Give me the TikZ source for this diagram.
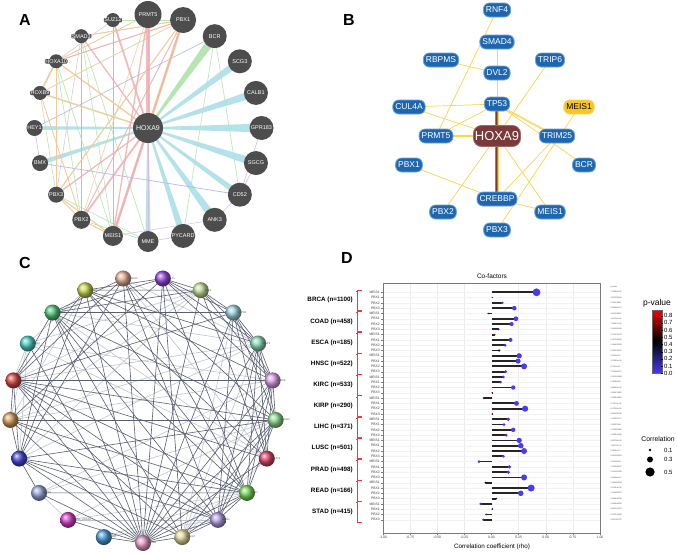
\documentclass[tikz,border=0pt]{standalone}
\usepackage{fontspec}
\setmainfont{Liberation Sans}
\usepackage{tikz}
\usetikzlibrary{calc}
\pgfdeclarelayer{bg}
\pgfsetlayers{bg,main}
% panel A
\definecolor{gnode}{HTML}{4D4D4D}
\definecolor{gcyan}{HTML}{B4E2EA}
\definecolor{ggreen}{HTML}{B6E5B1}
\definecolor{gpink}{HTML}{EFAEB0}
\definecolor{gorange}{HTML}{F6C898}
\definecolor{gtan}{HTML}{E6D4A4}
\definecolor{gpurple}{HTML}{D7C0DF}
\definecolor{gblue}{HTML}{B2BAEA}
% panel B
\definecolor{sblue}{HTML}{1E67B0}
\definecolor{sline}{HTML}{6EA3D6}
\definecolor{sedge}{HTML}{F8D64E}
\definecolor{sbrown}{HTML}{7A3A3A}
\definecolor{sbrline}{HTML}{A06A6A}
\definecolor{syellow}{HTML}{F6C623}
\definecolor{spurple}{HTML}{B163C2}
% panel C
\definecolor{cdark}{HTML}{5A5F70}
\definecolor{clight}{HTML}{C2C5CD}
\definecolor{cpink}{HTML}{E79BC4}
\definecolor{cbeige}{HTML}{E3DA9A}
\definecolor{clav}{HTML}{B3A0E6}
\definecolor{cgreen}{HTML}{7CDA58}
\definecolor{ccrimson}{HTML}{DC4466}
\definecolor{clgreen}{HTML}{8ED98E}
\definecolor{corchid}{HTML}{DDA0E6}
\definecolor{cmint}{HTML}{8ED9B9}
\definecolor{ccyan}{HTML}{9BD4E0}
\definecolor{colive}{HTML}{C2DE98}
\definecolor{cpurple}{HTML}{9448D8}
\definecolor{cpeach}{HTML}{E2B197}
\definecolor{cyg}{HTML}{C7D44E}
\definecolor{cgreentwo}{HTML}{55C97A}
\definecolor{cteal}{HTML}{4CCFC0}
\definecolor{cred}{HTML}{D94848}
\definecolor{ctan}{HTML}{D6A05A}
\definecolor{cblue}{HTML}{4646D6}
\definecolor{cperi}{HTML}{97A6DA}
\definecolor{cmag}{HTML}{D640C6}
\definecolor{csky}{HTML}{4B9CD8}
% panel D
\definecolor{pblue}{HTML}{4A3AF6}
\definecolor{pred}{HTML}{F20000}
\definecolor{dgrid}{HTML}{EBEBEB}
\definecolor{dframe}{HTML}{7A7A7A}
\definecolor{dbrack}{HTML}{F03A3A}

\begin{document}
\begin{tikzpicture}[x=1pt,y=-1pt,
  panel/.style={font=\fontsize{16}{18}\selectfont\bfseries},
  anode/.style={circle,fill=gnode,inner sep=0pt},
  alab/.style={text=white,fill=gnode,rounded corners=1pt,inner xsep=0.5pt,inner ysep=0.3pt,
    font=\fontsize{5.5}{6}\selectfont},
  snode/.style={rectangle,rounded corners=6pt,fill=sblue,draw=sline,line width=0.8pt,text=white,
    inner xsep=2.5pt,inner ysep=0pt,minimum height=14pt,font=\fontsize{8.5}{9}\selectfont},
  cnode/.style={circle,inner sep=0pt,minimum size=16pt},
  clab/.style={font=\fontsize{2.6}{3}\selectfont,text=black!70,inner sep=0pt},
  tick/.style={font=\fontsize{3.4}{4}\selectfont,text=black!75,inner sep=0.6pt},
  pval/.style={font=\fontsize{1.9}{2}\selectfont,text=black!75,inner sep=0pt,anchor=west},
  leg/.style={font=\fontsize{6}{7}\selectfont,inner sep=0.5pt}]
  \useasboundingbox (0,0) rectangle (677,554);
  \begin{pgfonlayer}{bg}
    \fill[white] (0,0) rectangle (677,554);
  \end{pgfonlayer}

  % A
  \node[panel] (labA) at (25,20) {A};
  \coordinate (actr) at (148,128);
  \node[anode,minimum size=30pt] (a-HOXA9) at (actr) {};
  \node[alab,font=\fontsize{7}{8}\selectfont] at (a-HOXA9) {HOXA9};
  \foreach \g/\d [count=\k from 0] in {PRMT5/27,PBX1/26,BCR/24,SCG3/24,CALB1/24,GPR183/24,SGCG/24,
      CD52/24,ANK3/24,PYCARD/24,MME/21,MEIS1/20,PBX2/18,PBX3/16,BMX/16,HEY1/16,HOXB9/14,HOXA10/14,SMAD3/14,SUZ12/14} {
    \node[anode,minimum size=\d pt] (a-\g) at ($(actr)+(-90+18*\k:113.5)$) {};
    \node[alab] at (a-\g) {\g};
  }
  \begin{pgfonlayer}{bg}
    % tapered bands
    \foreach \v/\w/\col in {SCG3/3.6/gcyan,CALB1/4/gcyan,GPR183/4.4/gcyan,SGCG/4/gcyan,CD52/3/gcyan,
        ANK3/4/gcyan,PYCARD/3.4/gcyan,MME/2.6/gcyan,HEY1/2/gcyan,BMX/2.3/gcyan,BCR/4.2/ggreen}
      \fill[\col] ($(a-HOXA9.center)!0.7pt!90:(a-\v.center)$) -- ($(a-\v.center)!\w pt!-90:(a-HOXA9.center)$)
        -- ($(a-\v.center)!\w pt!90:(a-HOXA9.center)$) -- ($(a-HOXA9.center)!0.7pt!-90:(a-\v.center)$) -- cycle;
    \foreach \u/\v/\w in {SMAD3/PBX1/0.6,SUZ12/PBX1/0.6,SMAD3/MEIS1/0.6,SMAD3/MME/0.6,
        BCR/CD52/0.6,HOXB9/PBX3/0.6,PBX3/MME/0.6,PBX2/MME/0.6,HOXA10/MEIS1/0.6,BCR/PYCARD/0.6,HOXA10/PBX2/0.6}
      \draw[ggreen,line width=\w pt] (a-\u.center) -- (a-\v.center);
    \foreach \u/\v/\w in {HEY1/BMX/0.6,SGCG/CD52/0.6,GPR183/CD52/0.6,CD52/ANK3/0.6,PYCARD/MME/0.6,
        MEIS1/ANK3/0.5,SUZ12/HOXA10/0.5,SMAD3/PBX3/0.5,PRMT5/MME/0.5}
      \draw[gpurple,line width=\w pt] (a-\u.center) -- (a-\v.center);
    \foreach \u/\v/\w in {BMX/CD52/0.7,HEY1/BCR/0.6,SMAD3/PBX2/0.6,SUZ12/MEIS1/0.5}
      \draw[gblue,line width=\w pt] (a-\u.center) -- (a-\v.center);
    \foreach \u/\v/\w in {HOXA9/HOXB9/1.5,HOXB9/PBX1/0.8,PRMT5/PBX2/0.6}
      \draw[gtan,line width=\w pt] (a-\u.center) -- (a-\v.center);
    \foreach \u/\v/\w in {HOXA9/PBX1/2.5,HOXA9/HOXA10/1.2,PBX1/SMAD3/0.8,PBX1/PBX3/1,PBX1/HOXA10/0.8,
        HOXA10/HOXB9/1.5,HOXA10/PBX3/0.8,HOXB9/PBX2/0.8,PBX3/MEIS1/1,PBX2/MEIS1/1,PRMT5/HOXA10/0.8,PBX3/PBX2/0.8}
      \draw[gorange,line width=\w pt] (a-\u.center) -- (a-\v.center);
    \foreach \u/\v/\w in {HOXA9/PRMT5/3.5,HOXA9/MEIS1/2.5,HOXA9/PBX2/1.8,HOXA9/PBX3/1.3,HOXA9/SUZ12/1.8,
        HOXA9/SMAD3/1.3,PRMT5/MEIS1/1.3,PBX1/MEIS1/1,PBX1/PBX2/1,PBX1/HOXA10/0.8}
      \draw[gpink,line width=\w pt,opacity=0.85] (a-\u.center) -- (a-\v.center);
  \end{pgfonlayer}

  % B
  \node[panel] (labB) at (349,20) {B};
  \foreach \n/\g/\x/\y in {RNF4/RNF4/497/10,SMAD4/SMAD4/497/42,RBPMS/RBPMS/441/60,DVL2/DVL2/497/73,
      TRIP6/TRIP6/550/60,TP53/TP53/497/104,CUL4A/CUL4A/409/107,PRMT5/PRMT5/436/136,TRIM25/TRIM25/557/136,
      PBX1/PBX1/409/165,BCR/BCR/584/165,CREBBP/CREBBP/497/199,PBX2/PBX2/443/212,MEIS1/MEIS1/550/212,PBX3/PBX3/497/230}
    \node[snode] (b-\n) at (\x,\y) {\g};
  \node[snode,fill=syellow,draw=syellow!70!white,text=black] (b-MEIS1y) at (579,107) {MEIS1};
  \node[snode,fill=sbrown,draw=sbrline,rounded corners=8pt,minimum height=21pt,inner xsep=1.5pt,
    font=\fontsize{13}{14}\selectfont] (b-HOXA9) at (497,136) {HOXA9};
  \begin{pgfonlayer}{bg}
    \foreach \u/\v in {RNF4/PRMT5,SMAD4/DVL2,RBPMS/DVL2,DVL2/TP53,TRIP6/HOXA9,CUL4A/TP53,CUL4A/HOXA9,
        PRMT5/TP53,TP53/TRIM25,TP53/BCR,HOXA9/PBX2,HOXA9/MEIS1,TRIM25/CREBBP,MEIS1y/PBX3,PBX1/CREBBP,CREBBP/MEIS1}
      \draw[sedge,line width=0.7pt] (b-\u.center) -- (b-\v.center);
    \draw[sedge,line width=0.7pt,transform canvas={yshift=-1.2pt}] (b-TP53.center) -- (b-TRIM25.center);
    \draw[sedge,line width=1.6pt] (b-PRMT5.center) -- (b-HOXA9.center);
    \draw[spurple,line width=3.6pt] (b-TP53.center) -- (b-CREBBP.center);
    \draw[sbrown,line width=0.8pt,transform canvas={xshift=-0.7pt}] (b-TP53.center) -- (b-CREBBP.center);
    \draw[sedge,line width=0.6pt,transform canvas={xshift=0.8pt}] (b-TP53.center) -- (b-CREBBP.center);
  \end{pgfonlayer}

  % C
  \node[panel] (labC) at (25,263) {C};
  \coordinate (cctr) at (143,410);
  \foreach \g/\col [count=\k from 0] in {HOXA9/cpink,HOXA7/cbeige,MEIS1/clav,PBX1/cgreen,MLLT10/ccrimson,
      HOXA10/clgreen,KMT2A/corchid,MLLT3/cmint,NUP98/ccyan,AFF1/colive,MLLT1/cpurple,PKNOX1/cpeach,
      MEN1/cyg,HOXB8/cgreentwo,MEIS3/cteal,HOXA5/cred,PBX2/ctan,PBX3/cblue,MEIS2/cperi,DEFA5\_HOXA9/cmag,CUL4A/csky} {
    \node[cnode,ball color=\col] (c\k) at ($(cctr)+(90-360/21*\k:133)$) {};
    \node[clab,anchor=west] at ($(c\k.center)+(4,0)$) {\g};
  }
  \begin{pgfonlayer}{bg}
    \foreach \u/\vs in {1/{4,6,7,8},4/{11,13,14},7/{11,13,15,16,17},9/{14,15,16,17},12/{14,16},
        14/{15,16,17},5/{18,19},18/{19},2/{19,20},3/{19,20},6/{14,16,18}}
      \foreach \v in \vs
        \draw[clight,line width=0.6pt] (c\u.center) -- (c\v.center);
    \foreach \u/\vs in {0/{1,2,...,20},1/{2,3,5,10,13,15,17},2/{3,5,6,7,8,11,13,15,16,17},
        3/{5,6,7,10,11,12,13,15,16,17,18},4/{6,7,8,9,12,15},5/{6,7,8,11,13,15,16,17},
        6/{7,8,9,10,12,15},7/{8,9,10,12},8/{9,10,13,15},9/{10,12,13},10/{12,13,16},
        11/{13,15,17},12/{15,17},13/{15,17},15/{16,17},16/{17},17/{18}}
      \foreach \v in \vs
        \draw[cdark,line width=0.6pt] (c\u.center) -- (c\v.center);
  \end{pgfonlayer}

  % D
  \node[panel] (labD) at (347,258) {D};
  \node[font=\fontsize{6.5}{7}\selectfont] (dtitle) at (492,276) {Co-factors};
  \foreach \v in {-0.75,-0.5,-0.25,0.25,0.5,0.75}
    \draw[dgrid,line width=0.5pt] (491.5+108.5*\v,283) -- (491.5+108.5*\v,533);
  \foreach \i in {0,...,43}
    \draw[black!5,line width=0.3pt] (383,292.3+5.29*\i) -- (600,292.3+5.29*\i);
  \draw[dframe,line width=0.8pt] (383,283) rectangle (600,533);
  \foreach \v/\t in {-1/-1.00,-0.75/-0.75,-0.5/-0.50,-0.25/-0.25,0/0.00,0.25/0.25,0.5/0.50,0.75/0.75,1/1.00} {
    \draw[dframe,line width=0.4pt] (491.5+108.5*\v,533) -- (491.5+108.5*\v,535);
    \node[tick,anchor=north] at (491.5+108.5*\v,535.5) {\t};
  }
  \node[font=\fontsize{6.3}{7}\selectfont] (dxlab) at (492,547) {Correlation coefficient (rho)};
  \node[pval] at (610.5,286.6) {p-value};
  \foreach \g/\r/\p/\t [count=\i from 0] in {
      MEIS1/0.415/0/7.93856e-46,PBX1/0.005/0.876/0.876280004,PBX2/0.10/0.0014/0.00141883,PBX3/0.21/0/9.69806e-13,
      MEIS1/-0.03/0.613/0.613206507,PBX1/0.225/0/1.14746e-06,PBX2/0.185/0/7.44657e-05,PBX3/0.065/0.164/0.164000249,
      MEIS1/0.03/0.724/0.723732278,PBX1/0.175/0.017/0.017438222,PBX2/0.125/0.094/0.094429033,PBX3/0.07/0.40/0.399792347,
      MEIS1/0.255/0/3.2860e-09,PBX1/0.245/0/1.76381e-08,PBX2/0.30/0/3.7013e-12,PBX3/0.13/0.0027/0.002664577,
      MEIS1/0.11/0.010/0.010034368,PBX1/0.085/0.060/0.05990491,PBX2/0.20/0/3.88331e-06,PBX3/0.005/0.885/0.885474582,
      MEIS1/-0.07/0.30/0.298541603,PBX1/0.23/0/6.70101e-05,PBX2/0.31/0/6.27328e-08,PBX3/0.005/0.89/0.890355785,
      MEIS1/0.155/0.003/0.002923717,PBX1/0.115/0.019/0.01870183,PBX2/0.20/0/0.000111588,PBX3/0.135/0.0095/0.009514136,
      MEIS1/0.255/0/4.60738e-08,PBX1/0.27/0/7.62175e-10,PBX2/0.30/0/3.6036e-12,PBX3/0.11/0.010/0.010000261,
      MEIS1/-0.115/0.010/0.01000014,PBX1/0.165/0/0.000285057,PBX2/0.155/0/0.000087299,PBX3/0.30/0/4.04489e-12,
      MEIS1/-0.055/0.48/0.480066258,PBX1/0.365/0/1.17814e-06,PBX2/0.27/0/0.000408873,PBX3/0.045/0.58/0.580448728,
      MEIS1/-0.10/0.039/0.038945342,PBX1/0.005/0.842/0.842297025,PBX2/-0.05/0.237/0.237164186,PBX3/-0.075/0.112/0.111724776} {
    \pgfmathsetmacro\yy{292.3+5.29*\i}
    \pgfmathsetmacro\xx{491.5+108.5*\r}
    \pgfmathsetmacro\rad{0.6+8*abs(\r)}
    \ifdim\p pt<0.45pt
      \pgfmathsetmacro\mix{100*(1-\p/0.45)}
      \colorlet{dotc}{pblue!\mix!black}
    \else
      \pgfmathsetmacro\mix{min(100,100*(\p-0.45)/0.4)}
      \colorlet{dotc}{pred!\mix!black}
    \fi
    \draw[dframe,line width=0.3pt] (381,\yy) -- (383,\yy);
    \node[tick,anchor=east] at (380.5,\yy) {\g};
    \draw[black!85,line width=1.8pt] (491.5,\yy) -- (\xx,\yy);
    \fill[dotc] (\xx,\yy) circle[radius=\rad pt];
    \node[pval] at (610.5,\yy) {\t};
  }
  \foreach \c [count=\g from 0] in {BRCA (n=1100),COAD (n=458),ESCA (n=185),HNSC (n=522),KIRC (n=533),
      KIRP (n=290),LIHC (n=371),LUSC (n=501),PRAD (n=498),READ (n=166),STAD (n=415)} {
    \pgfmathsetmacro\ytop{292.3+5.29*4*\g-2.4}
    \pgfmathsetmacro\ybot{\ytop+5.29*3+4.8}
    \pgfmathsetmacro\ymid{292.3+5.29*(4*\g+1.5)}
    \draw[dbrack,line width=0.6pt] (361.5,\ytop) -- (357.5,\ytop) -- (357.5,\ybot) -- (361.5,\ybot);
    \draw[dbrack,line width=0.6pt] (357.5,\ytop+1.2) -- (355.8,\ytop+1.2);
    \node[anchor=east,inner sep=0pt,font=\fontsize{6.3}{7}\selectfont\bfseries] at (353,\ymid) {\c};
  }

  % legends
  \node[font=\fontsize{8.5}{9}\selectfont] (ptitle) at (657,303) {p-value};
  \shade[bottom color=pblue,top color=black] (652,373.3) rectangle (662,340.9);
  \shade[bottom color=black,top color=pred] (652,340.9) rectangle (662,310);
  \draw[black!60,line width=0.4pt] (652,373.3) rectangle (662,310);
  \foreach \v in {0,...,8} {
    \draw[black,line width=0.4pt] (660.5,373.3-7.2*\v) -- (663,373.3-7.2*\v);
    \node[leg,anchor=west] at (663.5,373.3-7.2*\v) {0.\v};
  }
  \node[font=\fontsize{6.8}{7}\selectfont] (ctitle) at (658,439) {Correlation};
  \foreach \v/\y/\rr in {1/450/1.4,3/459.5/3.0,5/472/4.6} {
    \fill[black] (650,\y) circle[radius=\rr pt];
    \node[leg,anchor=west] at (663.5,\y) {0.\v};
  }
\end{tikzpicture}
\end{document}
